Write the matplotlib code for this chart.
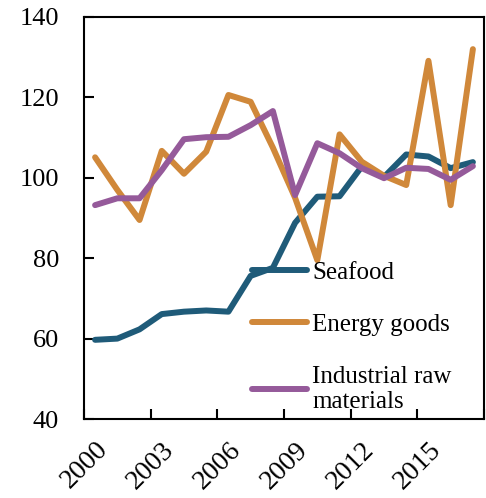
import matplotlib
matplotlib.use("Agg")
import matplotlib.pyplot as plt
import matplotlib.transforms as mtransforms

# index values
years = list(range(2000, 2018))
seafood = [59.7, 60.0, 62.3, 66.1, 66.7, 67.0, 66.7, 75.6, 77.6, 88.8,
           95.3, 95.4, 102.8, 100.2, 105.8, 105.3, 102.4, 103.9]
energy = [105.1, 97.0, 89.5, 106.7, 101.0, 106.5, 120.6, 118.9, 107.5, 95.0,
          79.5, 110.8, 104.0, 100.5, 98.2, 129.1, 93.2, 132.0]
industrial = [93.2, 94.9, 94.9, 101.9, 109.6, 110.1, 110.2, 113.1, 116.6, 95.7,
              108.6, 106.1, 102.4, 99.9, 102.5, 102.2, 99.5, 102.9]
label_years = [2000, 2003, 2006, 2009, 2012, 2015]

plt.rcParams['font.family'] = ['Liberation Serif', 'DejaVu Serif']
plt.rcParams['font.size'] = 19

fig = plt.figure(figsize=(4.86, 4.98), dpi=100)
ax = fig.add_axes([0.1728, 0.1586, 0.8231, 0.8073])

x = list(range(len(years)))  # categories, one slot per year
lw = 4.3
ax.plot(x, seafood, color='#1f5b79', lw=lw, label='Seafood', solid_capstyle='round')
ax.plot(x, energy, color='#d0883a', lw=lw, label='Energy goods', solid_capstyle='round')
ax.plot(x, industrial, color='#955a9a', lw=lw, label='Industrial raw\nmaterials',
        solid_capstyle='round')

ax.set_xlim(-0.5, len(years) - 0.5)
ax.set_ylim(40, 140)
ax.set_yticks([40, 60, 80, 100, 120, 140])

# tick marks between categories, labels centred on the category
ax.set_xticks([years.index(y) - 0.5 for y in label_years] + [len(years) - 0.5])
ax.set_xticklabels([])
ax.set_xticks([years.index(y) for y in label_years], minor=True)
ax.set_xticklabels([str(y) for y in label_years], minor=True, rotation=45,
                   ha='right', va='top', rotation_mode='anchor', fontsize=20)
shift = mtransforms.ScaledTranslation(5 / 100, 0, fig.dpi_scale_trans)
for lab in ax.get_xticklabels(minor=True):
    lab.set_transform(lab.get_transform() + shift)
ax.tick_params(axis='x', which='minor', length=0, pad=13)
ax.tick_params(axis='x', which='major', direction='in', length=7, width=1.5)
ax.tick_params(axis='y', direction='in', length=7, width=1.5, pad=18)

for s in ax.spines.values():
    s.set_linewidth(1.5)

ax.legend(loc='upper left', bbox_to_anchor=(0.42, 0.393), frameon=False,
          fontsize=18, handlelength=2.2, handletextpad=0.2, labelspacing=1.2,
          borderpad=0, borderaxespad=0)

fig.savefig('out.png', dpi=100)
